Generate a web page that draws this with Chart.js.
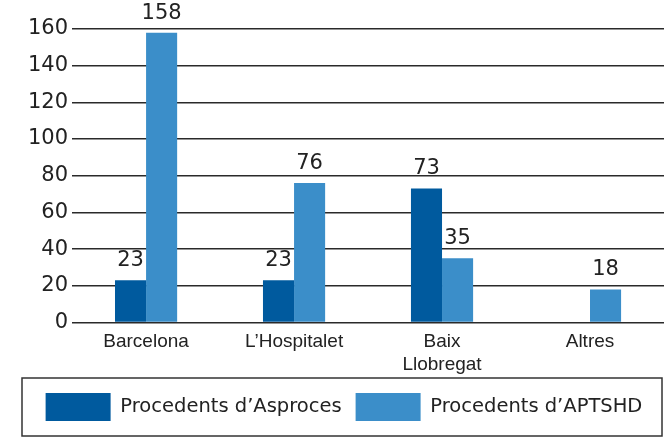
<!DOCTYPE html>
<html>
<head>
<meta charset="utf-8">
<script src="https://cdn.jsdelivr.net/npm/chart.js@4"></script>
<style>
  html, body { margin: 0; padding: 0; background: #fff; }
  #wrap { width: 664px; height: 438px; }
</style>
</head>
<body>
<div id="wrap"><canvas id="grafic" width="664" height="438"></canvas></div>
<script>
// DADES
var categories = ["Barcelona", "L\u2019Hospitalet", ["Baix", "Llobregat"], "Altres"];
var asproces = [23, 23, 73, null];
var aptshd = [158, 76, 35, 18];
var yTicks = [0, 20, 40, 60, 80, 100, 120, 140, 160];

var fosc = "#005a9e";
var clar = "#3b8ec9";

// etiquetes de valor damunt de les barres
var etiquetes = {
    id: "etiquetes",
    afterDatasetsDraw: function (chart) {
        var ctx = chart.ctx;
        ctx.save();
        ctx.font = "21px 'DejaVu Sans'";
        ctx.fillStyle = "#222";
        ctx.textAlign = "center";
        ctx.textBaseline = "bottom";
        chart.data.datasets.forEach(function (ds, i) {
            var meta = chart.getDatasetMeta(i);
            meta.data.forEach(function (bar, j) {
                if (ds.data[j] == null) return;
                ctx.fillText(ds.data[j], bar.x, bar.y - 9);
            });
        });
        ctx.restore();
    }
};

// marc de la llegenda
var marc = {
    id: "marc",
    afterDraw: function (chart) {
        var lg = chart.legend;
        var ctx = chart.ctx;
        ctx.save();
        ctx.strokeStyle = "#333";
        ctx.lineWidth = 1.5;
        ctx.strokeRect(22, lg.top - 1, chart.width - 24, lg.height + 6);
        ctx.restore();
    }
};

new Chart(document.getElementById("grafic"), {
    type: "bar",
    data: {
        labels: categories,
        datasets: [{
            label: "Procedents d\u2019Asproces",
            data: asproces,
            backgroundColor: fosc,
            categoryPercentage: 0.42,
            barPercentage: 1
        }, {
            label: "Procedents d\u2019APTSHD",
            data: aptshd,
            backgroundColor: clar,
            categoryPercentage: 0.42,
            barPercentage: 1
        }]
    },
    plugins: [etiquetes, marc],
    options: {
        responsive: false,
        animation: false,
        layout: { padding: { top: 29, left: 24, right: 0, bottom: 7 } },
        scales: {
            x: {
                grid: { display: false },
                border: { display: false },
                afterFit: function (axis) { axis.height += 3; },
                ticks: {
                    color: "#222",
                    font: { family: "'Liberation Sans'", size: 19 },
                    padding: 0,
                    maxRotation: 0
                }
            },
            y: {
                min: 0,
                max: 160,
                afterBuildTicks: function (axis) {
                    axis.ticks = yTicks.map(function (v) { return { value: v }; });
                },
                grid: { color: "#2a2a2a", lineWidth: 1.5, drawTicks: false },
                border: { display: false },
                ticks: {
                    color: "#222",
                    font: { family: "'DejaVu Sans'", size: 21 },
                    padding: 4
                }
            }
        },
        plugins: {
            legend: {
                position: "bottom",
                labels: {
                    boxWidth: 65,
                    boxHeight: 28,
                    padding: 14,
                    color: "#222",
                    font: { family: "'DejaVu Sans'", size: 19.5 }
                }
            },
            tooltip: { enabled: false }
        }
    }
});
</script>
</body>
</html>
